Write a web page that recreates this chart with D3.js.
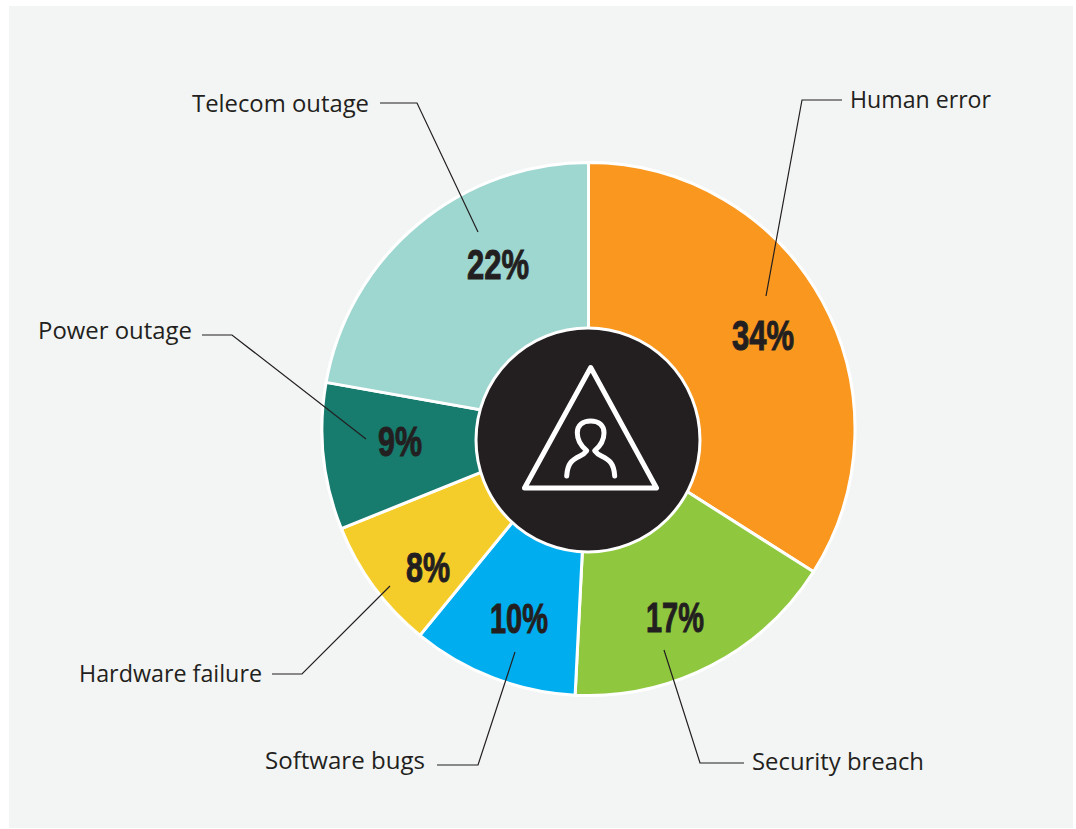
<!DOCTYPE html>
<html>
<head>
<meta charset="utf-8">
<script src="https://d3js.org/d3.v7.min.js"></script>
<style>
    body { margin: 0; background: #fff; }
    svg { display: block; }
    .name { font-family: "Open Sans", sans-serif; font-size: 24.5px; fill: #231f20; }
    .pct { font-family: "Liberation Sans Narrow", "Liberation Sans", sans-serif; font-weight: 700; font-size: 43px; fill: #231f20; stroke: #231f20; stroke-width: 1px; }
</style>
</head>
<body>
<div id="chart"></div>

<script>
    // chart values
    const categories = ["Human error", "Security breach", "Software bugs", "Hardware failure", "Power outage", "Telecom outage"];
    const shares = [34, 17, 10, 8, 9, 22];
    // slice sizes, they differ a little from the printed numbers
    const sliceSizes = [34, 16.8, 10.1, 8, 8.9, 22.2];
    const colors = ["#f9971f", "#8fc83f", "#00aeef", "#f5cd2b", "#177b6e", "#9ed6d0"];

    const width = 1076, height = 829;
    const cx = 588.5, cy = 429, outerR = 266.5;

    // hand placed annotations, same order as categories
    const pctPos = [[763, 334], [675, 616], [519, 617], [428, 566], [400, 440], [498, 263]];
    const pctWidth = [62, 58, 58, 44, 44, 62];
    const namePos = [[850, 108, "start"], [752, 770, "start"], [265, 769, "start"], [79, 682, "start"], [38, 339, "start"], [192, 112, "start"]];
    const nameWidth = [141, 172, 160, 183, 154, 177];
    const leaders = [
        [[842, 100], [802, 100], [766, 296]],
        [[744, 763], [700, 763], [664, 650]],
        [[437, 765], [478, 765], [515, 652]],
        [[272, 674], [302, 674], [390, 586]],
        [[202, 335], [232, 335], [366, 439]],
        [[380, 103], [417, 103], [478, 232]]
    ];

    const svg = d3.select("#chart")
        .append("svg")
        .attr("width", width)
        .attr("height", height);

    svg.append("rect")
        .attr("x", 9)
        .attr("y", 6)
        .attr("width", 1064)
        .attr("height", 822)
        .attr("fill", "#f3f5f4");

    const pie = d3.pie().sort(null)(sliceSizes);
    const arc = d3.arc().innerRadius(0).outerRadius(outerR);

    const g = svg.append("g").attr("transform", `translate(${cx},${cy})`);

    g.selectAll("path")
        .data(pie)
        .join("path")
        .attr("d", arc)
        .attr("fill", (d, i) => colors[i])
        .attr("stroke", "#fff")
        .attr("stroke-width", 3)
        .attr("stroke-linejoin", "round");

    // centre disc sits a bit below the pie centre
    svg.append("circle")
        .attr("cx", 588)
        .attr("cy", 440)
        .attr("r", 112)
        .attr("fill", "#231f20")
        .attr("stroke", "#fff")
        .attr("stroke-width", 3);

    // warning icon
    const icon = svg.append("g")
        .attr("fill", "none")
        .attr("stroke", "#fff")
        .attr("stroke-linejoin", "round")
        .attr("stroke-linecap", "round");

    icon.append("path")
        .attr("stroke-width", 5)
        .attr("d", "M590.7,367.5 L656.5,488 L524.5,488 Z");

    icon.append("path")
        .attr("stroke-width", 5)
        .attr("d", "M566.7,476 C567.5,463 572,460 580,456 C583,454.5 585,453 586.7,450.7 C581,446 577.3,440 577.3,433 C577.3,425 583,421 590.7,421 C598.4,421 604,425 604,433 C604,440 600.4,446 594.7,450.7 C596.4,453 598.4,454.5 601.4,456 C609.4,460 613.9,463 614.7,476");

    // leader lines
    const line = d3.line();
    svg.append("g")
        .selectAll("path")
        .data(leaders)
        .join("path")
        .attr("d", line)
        .attr("fill", "none")
        .attr("stroke", "#231f20")
        .attr("stroke-width", 1.2);

    // category names
    svg.append("g")
        .selectAll("text")
        .data(categories)
        .join("text")
        .attr("class", "name")
        .attr("x", (d, i) => namePos[i][0])
        .attr("y", (d, i) => namePos[i][1])
        .attr("text-anchor", (d, i) => namePos[i][2])
        .attr("textLength", (d, i) => nameWidth[i])
        .attr("lengthAdjust", "spacingAndGlyphs")
        .text(d => d);

    // percent labels
    svg.append("g")
        .selectAll("text")
        .data(shares)
        .join("text")
        .attr("class", "pct")
        .attr("x", (d, i) => pctPos[i][0] - pctWidth[i] / 2)
        .attr("y", (d, i) => pctPos[i][1] + 16)
        .attr("textLength", (d, i) => pctWidth[i])
        .attr("lengthAdjust", "spacingAndGlyphs")
        .text(d => d + "%");
</script>
</body>
</html>
